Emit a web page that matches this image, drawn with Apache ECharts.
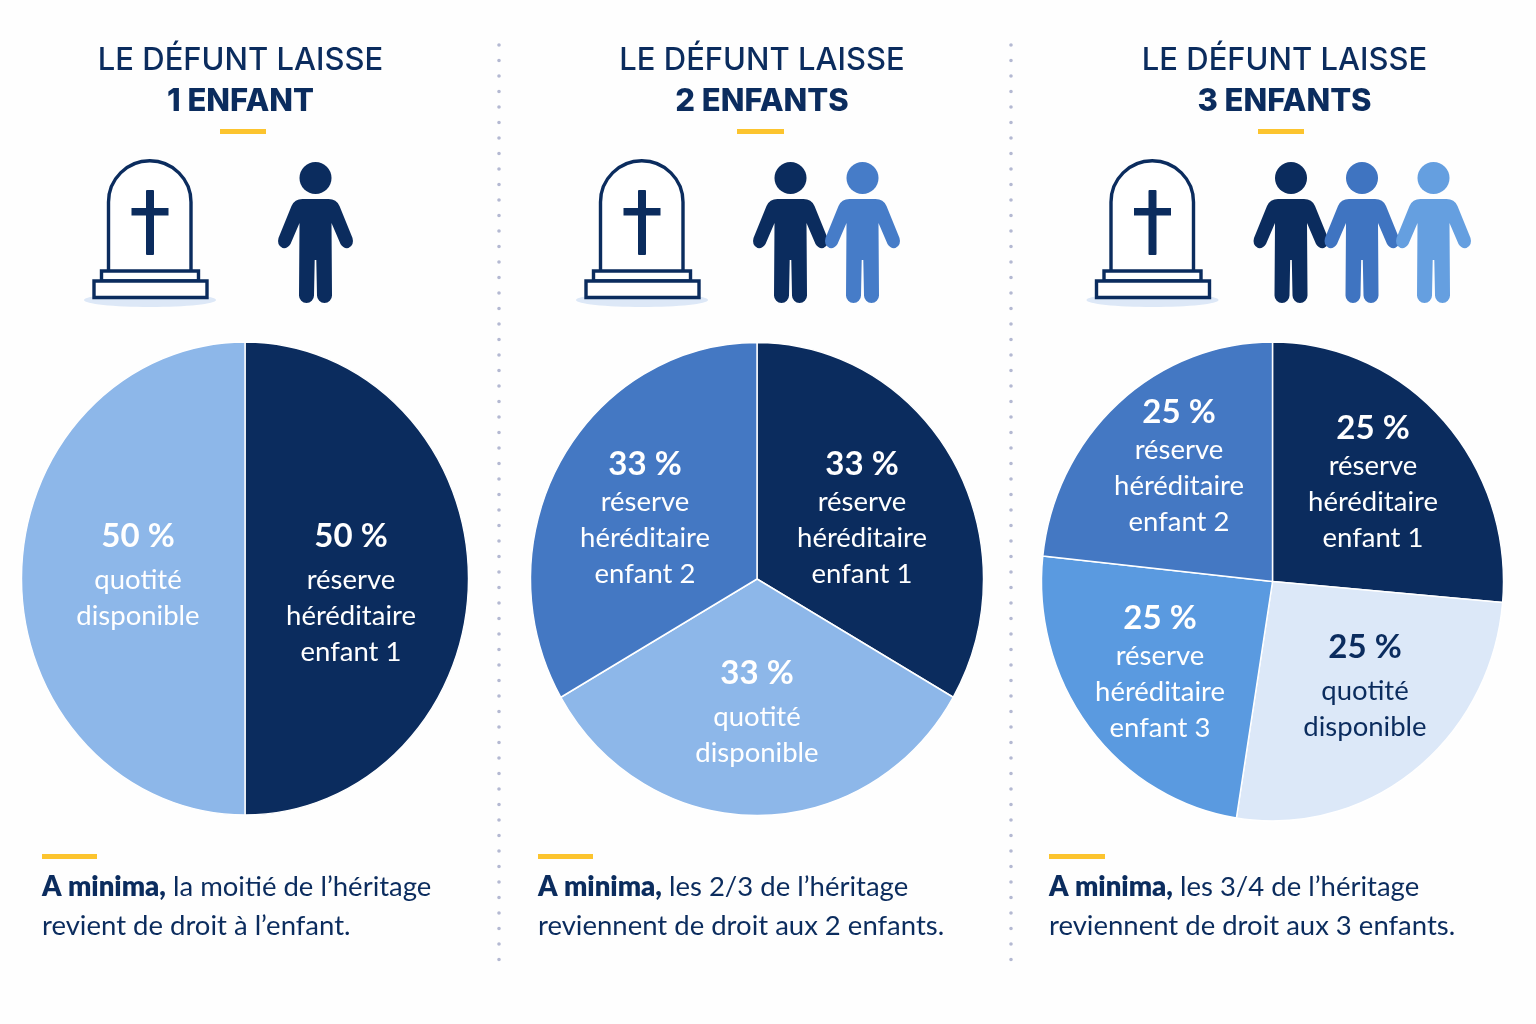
<!DOCTYPE html>
<html><head><meta charset="utf-8">
<style>html,body{margin:0;padding:0;background:#fefefe}#c{width:1536px;height:1024px}</style>
<script src="https://cdn.jsdelivr.net/npm/echarts@6/dist/echarts.min.js"></script>
</head><body><div id="c"></div>
<script>
// Slice shares, clockwise from the top.
const names1 = ['réserve héréditaire enfant 1', 'quotité disponible'];
const shares1 = [50, 50];
const names2 = ['réserve héréditaire enfant 1', 'quotité disponible', 'réserve héréditaire enfant 2'];
const shares2 = [33.33, 33.33, 33.33];
const names3 = ['réserve héréditaire enfant 1', 'quotité disponible', 'réserve héréditaire enfant 3', 'réserve héréditaire enfant 2'];
const shares3 = [26.4, 26.1, 24.2, 23.3]; // drawn angles of the picture; printed as 25 %
const pct1 = ['50 %', '50 %'];
const pct2 = ['33 %', '33 %', '33 %'];
const pct3 = ['25 %', '25 %', '25 %', '25 %'];
const titles = ['1 ENFANT', '2 ENFANTS', '3 ENFANTS'];
const footers = [
  ['la moitié de l’héritage', 'revient de droit à l’enfant.'],
  ['les 2/3 de l’héritage', 'reviennent de droit aux 2 enfants.'],
  ['les 3/4 de l’héritage', 'reviennent de droit aux 3 enfants.']
];

const NAVY = '#0b2c5e', MID = '#4478c3', BRIGHT = '#5a9ae0', LIGHT = '#8db7e9', PALE = '#dce8f8';
const FONT = 'Lato', TITLE_FONT = 'Inter';
const colors1 = [NAVY, LIGHT], colors2 = [NAVY, LIGHT, MID], colors3 = [NAVY, PALE, BRIGHT, MID];
const anchors1 = [[351, 590], [138, 572]];
const anchors2 = [[862, 518], [757, 709], [645, 518]];
const anchors3 = [[1373, 482], [1365, 683], [1160, 672], [1179, 466]];
// The pies of the picture are slightly oval: [centre x, centre y, half width, half height]
const oval1 = [245, 578.5, 223.5, 236.5];
const oval2 = [757, 579, 226.5, 236.5];
const oval3 = [1272.5, 581.5, 231, 239.5];

function labelText(name, pct, big) {
  const words = name.split(' ');
  const lines = words[0] === 'réserve' ? [words[0], words[1], words[2] + ' ' + words[3]] : words;
  return '{' + big + '|' + pct + '}\n' + lines.map(l => '{t|' + l + '}').join('\n');
}
function rich(color) {
  const p = { fontFamily: FONT, fontWeight: 700, fontSize: 33, color, align: 'center' };
  return {
    a: { ...p, lineHeight: 52 }, b: { ...p, lineHeight: 40 },
    t: { fontFamily: FONT, fontWeight: 400, fontSize: 27.5, lineHeight: 36, color, align: 'center' }
  };
}
function pie(names, values, pcts, cols, oval, anchors, tall) {
  return {
    type: 'pie', center: [oval[0], oval[1]], radius: [0, oval[3]], startAngle: 90, clockwise: true, silent: true, animation: false,
    itemStyle: { borderColor: '#ffffff', borderWidth: 1.5 },
    labelLine: { show: false },
    labelLayout: p => ({ x: anchors[p.dataIndex][0], y: anchors[p.dataIndex][1], align: 'center', verticalAlign: 'middle' }),
    data: names.map((n, i) => ({
      name: n, value: values[i], itemStyle: { color: cols[i] },
      label: {
        show: true, position: 'inside',
        formatter: labelText(n, pcts[i], n[0] === 'q' || tall ? 'a' : 'b'),
        rich: rich(cols[i] === PALE ? NAVY : '#ffffff')
      }
    }))
  };
}

// ---- pictograms, drawn by a custom series outside any coordinate system ----
const PERSON = 'M-13 199L13 199Q21 199 24 206L37 238Q39 245 33 248Q28 249 25 244L16 223L16.5 295.5A7.5 7.5 0 0 1 1.5 295.5L0.8 260L-0.8 260L-1.5 295.5A7.5 7.5 0 0 1 -16.5 295.5L-16 223L-25 244Q-28 249 -33 248Q-39 245 -37 238L-24 206Q-21 199 -13 199Z';
function person(cx, fill) {
  return [
    { type: 'circle', shape: { cx, cy: 178, r: 16 }, style: { fill } },
    { type: 'path', x: cx, y: 0, shape: { pathData: PERSON }, style: { fill } }
  ];
}
function tomb(dx) {
  const s = { fill: '#ffffff', stroke: NAVY, lineWidth: 3.4 };
  return [
    { type: 'ellipse', shape: { cx: 150 + dx, cy: 300, rx: 66, ry: 7 }, style: { fill: '#dde8f7' } },
    { type: 'path', shape: { pathData: `M${108.5 + dx} 271L${108.5 + dx} 202A41.25 41.25 0 0 1 ${191 + dx} 202L${191 + dx} 271` }, style: s },
    { type: 'rect', shape: { x: 101.5 + dx, y: 271, width: 97, height: 10 }, style: s },
    { type: 'rect', shape: { x: 94 + dx, y: 281, width: 113, height: 16.5 }, style: s },
    { type: 'rect', shape: { x: 146 + dx, y: 190, width: 8, height: 65, r: 1 }, style: { fill: NAVY } },
    { type: 'rect', shape: { x: 131.5 + dx, y: 208, width: 37, height: 7.5 }, style: { fill: NAVY } }
  ];
}
const icons = [
  ...tomb(0), ...tomb(492), ...tomb(1002.5),
  ...person(315.5, NAVY),
  ...person(790.5, NAVY), ...person(862.5, '#467cc8'),
  ...person(1291, NAVY), ...person(1362, '#3f74c1'), ...person(1433.5, '#659fe0')
];
const iconSeries = {
  type: 'custom', coordinateSystem: 'none', silent: true, animation: false, data: [[0]],
  renderItem: () => ({ type: 'group', children: icons })
};

const bar = (x, y, w, h) => ({ type: 'rect', shape: { x, y, width: w, height: h }, style: { fill: '#fcc42e' } });
const dots = x => ({ type: 'line', shape: { x1: x, y1: 45, x2: x, y2: 962 }, style: { stroke: '#b4b9d2', lineWidth: 3.6, lineCap: 'round', lineDash: [0, 15.5] } });
const footer = (x, lines) => ({
  type: 'text', x, y: 868,
  style: {
    text: '{b|A minima,} {r|' + lines[0] + '}\n{r|' + lines[1] + '}',
    rich: {
      b: { fontFamily: FONT, fontWeight: 800, fontSize: 27.5, lineHeight: 39, fill: NAVY },
      r: { fontFamily: FONT, fontWeight: 400, fontSize: 27.5, lineHeight: 39, fill: NAVY }
    },
    fill: NAVY, font: '400 27.5px ' + FONT
  }
});
const title = (i, cx) => ({
  text: '{a|LE DÉFUNT LAISSE}\n{b|' + titles[i] + '}', left: cx, top: 40.5, padding: 0, textAlign: 'center',
  textStyle: { rich: {
    a: { fontFamily: TITLE_FONT, fontWeight: 500, fontSize: 31, lineHeight: 41, color: NAVY, align: 'center' },
    b: { fontFamily: TITLE_FONT, fontWeight: 800, fontSize: 31, lineHeight: 41, color: NAVY, align: 'center' }
  } }
});

const chart = echarts.init(document.getElementById('c'), null, { renderer: 'canvas' });
chart.setOption({
  backgroundColor: '#fefefe',
  animation: false,
  title: [title(0, 240.5), title(1, 762), title(2, 1284.5)],
  series: [
    pie(names1, shares1, pct1, colors1, oval1, anchors1, true),
    pie(names2, shares2, pct2, colors2, oval2, anchors2, false),
    pie(names3, shares3, pct3, colors3, oval3, anchors3, false),
    iconSeries
  ],
  graphic: { elements: [
    dots(499), dots(1011),
    bar(220, 129, 46, 5), bar(737, 129, 47, 5), bar(1258, 129, 46, 5),
    bar(42, 854, 55, 5), bar(538, 854, 55, 5), bar(1049, 854, 56, 5),
    footer(42, footers[0]), footer(538, footers[1]), footer(1049, footers[2])
  ] }
});

// Squeeze the pie sectors horizontally to the oval outline of the picture.
const zr = chart.getZr();
zr.storage.getDisplayList(true).forEach(el => {
  if (el.type !== 'sector') return;
  const oval = [oval1, oval2, oval3].find(o => o[0] === el.shape.cx);
  if (oval) el.attr({ originX: oval[0], originY: oval[1], scaleX: oval[2] / oval[3] });
});
zr.refresh();
</script></body></html>
